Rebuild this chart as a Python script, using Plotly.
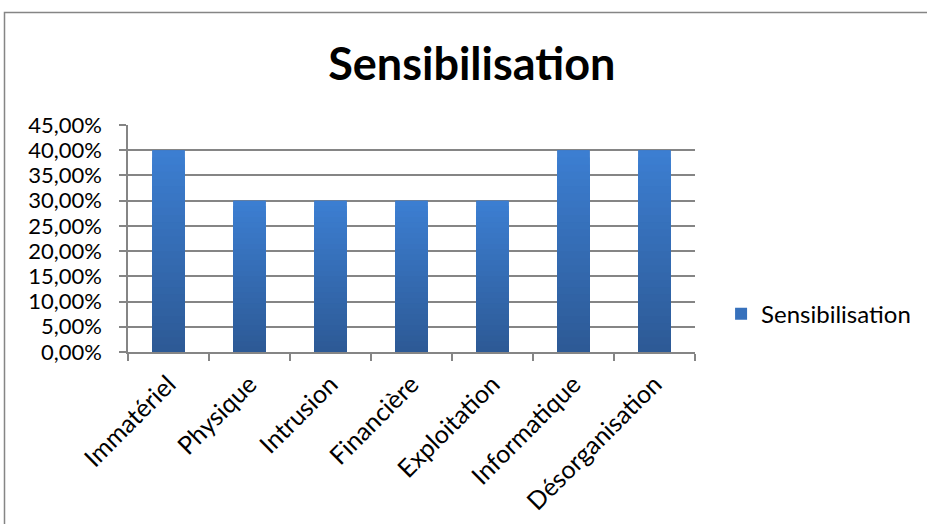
import plotly.graph_objects as go

# --- data -------------------------------------------------------------
categories = ["Immatériel", "Physique", "Intrusion", "Financière",
              "Exploitation", "Informatique", "Désorganisation"]
values = [0.40, 0.30, 0.30, 0.30, 0.30, 0.40, 0.40]
series_name = "Sensibilisation"
chart_title = "Sensibilisation"
y_tick_values = [0.00, 0.05, 0.10, 0.15, 0.20, 0.25, 0.30, 0.35, 0.40, 0.45]

# --- style ------------------------------------------------------------
FONT = "Lato"
GREY = "#858585"
TOP_RGB = (60, 126, 209)      # light blue at the top of each bar
BOTTOM_RGB = (45, 90, 150)    # darker blue at the foot of each bar
LAYERS = 28                   # number of bands used for the vertical gradient
BAR_WIDTH = 0.40


def mix(a, b, t):
    r, g, bl = (round(a[i] + (b[i] - a[i]) * t) for i in range(3))
    return f"rgb({r},{g},{bl})"


fig = go.Figure()

# Full-height bars; this trace carries the legend entry.
fig.add_trace(go.Bar(
    x=categories, y=values, name=series_name, width=BAR_WIDTH,
    marker=dict(color=mix(TOP_RGB, BOTTOM_RGB, 0.35), line_width=0),
    hovertemplate="%{x}: %{y:.2%}<extra></extra>",
))
# Shorter bands drawn on top, each a little darker, give the gradient.
for k in range(LAYERS):
    frac = 1 - k / LAYERS
    fig.add_trace(go.Bar(
        x=categories, y=[v * frac for v in values], width=BAR_WIDTH,
        marker=dict(color=mix(TOP_RGB, BOTTOM_RGB, k / (LAYERS - 1)), line_width=0),
        showlegend=False, hoverinfo="skip",
    ))

fig.update_layout(
    width=927, height=524,
    barmode="overlay",
    separators=", ",
    paper_bgcolor="white", plot_bgcolor="white",
    font=dict(family=FONT, size=22, color="black"),
    margin=dict(l=128, r=232, t=125, b=172, autoexpand=False),
    title=dict(text=f"<b>{chart_title}</b>", x=0.509, xanchor="center",
               y=1 - 64 / 524, yanchor="middle",
               font=dict(family=FONT, size=45, color="black")),
    showlegend=True,
    legend=dict(x=1.046, xanchor="left", y=0.167, yanchor="middle",
                font=dict(family=FONT, size=24, color="black"),
                bgcolor="rgba(0,0,0,0)", borderwidth=0),
    xaxis=dict(
        type="category", tickangle=-45, tickson="boundaries",
        ticks="outside", ticklen=7, tickcolor=GREY, tickwidth=1.5,
        showline=True, linecolor=GREY, linewidth=1.5,
        showgrid=False, tickfont=dict(family=FONT, size=25),
        ticklabelstandoff=6,
    ),
    yaxis=dict(
        range=[0, 0.45], tickvals=y_tick_values, tickformat=".2%",
        ticks="outside", ticklen=7, tickcolor=GREY, tickwidth=1.5,
        showline=True, linecolor=GREY, linewidth=1.5,
        showgrid=True, gridcolor=GREY, gridwidth=1.5,
        zeroline=False, tickfont=dict(family=FONT, size=22),
        ticklabelstandoff=13,
    ),
    shapes=[dict(
        type="rect", xref="paper", yref="paper", layer="below",
        x0=(4.5 - 128) / 567, x1=2.0,
        y0=-1.2, y1=(352 - 12.5) / 227,
        line=dict(color=GREY, width=1.5), fillcolor="rgba(0,0,0,0)",
    )],
)

fig.write_html("out.html")
